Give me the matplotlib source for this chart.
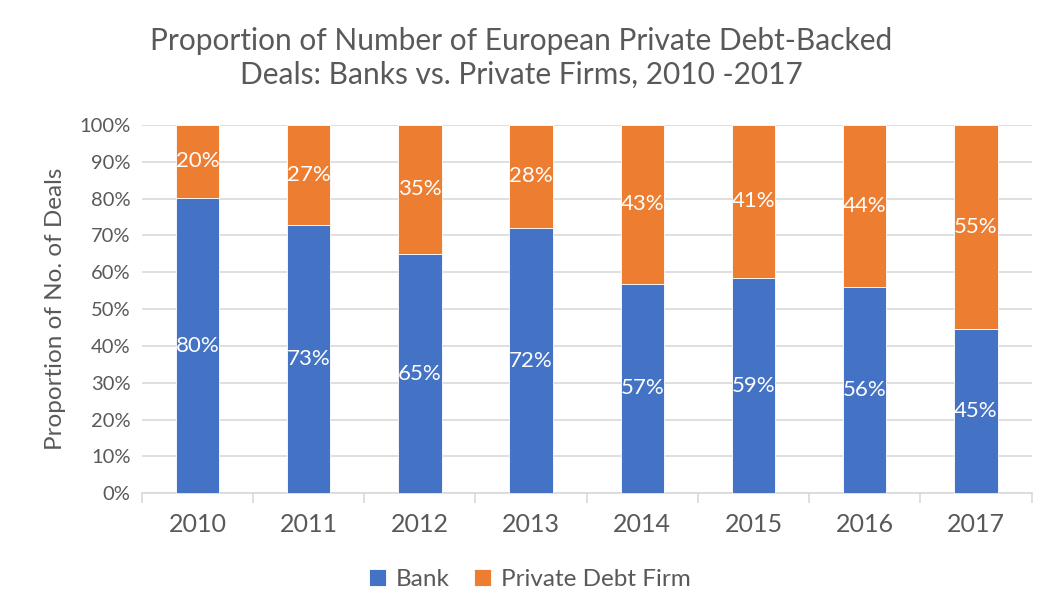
import matplotlib
matplotlib.use("Agg")
import matplotlib.pyplot as plt
import numpy as np

years = ["2010", "2011", "2012", "2013", "2014", "2015", "2016", "2017"]
bank = [80.2, 72.7, 65.0, 72.0, 56.9, 58.5, 56.1, 44.6]
private = [19.8, 27.3, 35.0, 28.0, 43.1, 41.5, 43.9, 55.4]
bank_labels = ["80%", "73%", "65%", "72%", "57%", "59%", "56%", "45%"]
private_labels = ["20%", "27%", "35%", "28%", "43%", "41%", "44%", "55%"]
yticks = [0, 10, 20, 30, 40, 50, 60, 70, 80, 90, 100]

plt.rcParams['font.family'] = ['Lato', 'DejaVu Sans']
gray = "#595959"
blue = "#4472C4"
orange = "#ED7D31"

fig = plt.figure(figsize=(10.43, 6.12), dpi=100)
ax = fig.add_axes([0.136, 0.194, 0.853, 0.602])

x = np.arange(len(years))
w = 0.39
ax.bar(x, bank, w, color=blue, edgecolor="white", linewidth=0.6, label="Bank", zorder=3)
ax.bar(x, private, w, bottom=bank, color=orange, edgecolor="white", linewidth=0.6,
       label="Private Debt Firm", zorder=3)

for i in range(len(years)):
    ax.text(x[i], bank[i] / 2, bank_labels[i], ha="center", va="center",
            color="white", fontsize=16, zorder=4)
    ax.text(x[i], bank[i] + private[i] / 2, private_labels[i], ha="center", va="center",
            color="white", fontsize=16, zorder=4)

ax.set_xlim(-0.5, len(years) - 0.5)
ax.set_ylim(0, 100)
ax.set_yticks(yticks)
ax.set_yticklabels([f"{v}%" for v in yticks], color=gray, fontsize=14.5)
ax.set_xticks(x)
ax.set_xticklabels(years, color=gray, fontsize=18)
ax.set_xticks(np.arange(-0.5, len(years), 1), minor=True)
ax.tick_params(axis="x", which="major", length=0, pad=14)
ax.tick_params(axis="x", which="minor", length=7, color="#D9D9D9", width=1.2)
ax.tick_params(axis="y", length=0, pad=8)

ax.grid(axis="y", color="#D9D9D9", linewidth=1.2, zorder=0)
for s in ["top", "right", "left"]:
    ax.spines[s].set_visible(False)
ax.spines["bottom"].set_color("#D9D9D9")
ax.spines["bottom"].set_linewidth(1.2)

ax.set_ylabel("Proportion of No. of Deals", color=gray, fontsize=17.5, labelpad=10)

fig.text(0.5, 0.905, "Proportion of Number of European Private Debt-Backed\nDeals: Banks vs. Private Firms, 2010 -2017",
         ha="center", va="center", color=gray, fontsize=21.5, linespacing=1.25)

leg = ax.legend(loc="center", bbox_to_anchor=(0.436, -0.235), ncol=2, frameon=False,
                fontsize=17.5, handlelength=0.7, handleheight=0.7, columnspacing=1.0,
                handletextpad=0.4)
for t in leg.get_texts():
    t.set_color(gray)

fig.savefig("out.png", dpi=100)
